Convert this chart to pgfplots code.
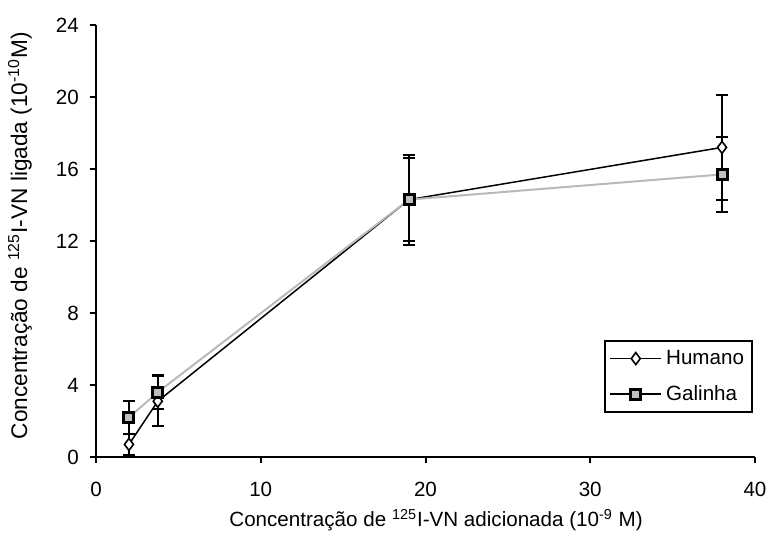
\documentclass[border=0pt]{standalone}
\usepackage{pgfplots}
\pgfplotsset{compat=1.18}
\usepackage{fontspec}
\setmainfont{Liberation Sans}
\begin{document}
\fontsize{10.3}{12}\selectfont
\begin{tikzpicture}
\begin{axis}[
  at={(0,0)}, anchor=south west,
  scale only axis, width=329.5pt, height=216pt,
  xmin=0, xmax=40, ymin=0, ymax=24,
  axis lines=left, axis line style={-, line width=1pt},
  xtick={0,10,20,30,40}, ytick={0,4,8,12,16,20,24},
  tick align=outside, major tick length=3pt,
  tick style={line width=1pt, black},
  /pgf/number format/assume math mode=true,
  tick label style={font=\fontsize{10.3}{12}\selectfont},
  xticklabel style={yshift=-6pt},
  yticklabel style={xshift=-2pt},
  xlabel={Concentração de \textsuperscript{125}I-VN adicionada (10\textsuperscript{-9} M)},
  ylabel={Concentração de \textsuperscript{125}I-VN ligada (10\textsuperscript{-10}M)},
  xlabel style={font=\fontsize{10.3}{12}\selectfont, at={(axis description cs:0.516,0)}, anchor=center, yshift=-31.5pt},
  ylabel style={font=\fontsize{11.3}{13}\selectfont, at={(axis description cs:-0.1153,0.512)}, anchor=center},
  legend style={at={(axis description cs:0.997,0.271)}, anchor=north east,
    draw=black, line width=1pt, font=\fontsize{10.3}{12}\selectfont,
    inner xsep=2pt, inner ysep=2.5pt, row sep=5pt, cells={anchor=west}},
  legend image code/.code={\draw[mark repeat=2,mark phase=2] plot coordinates {(0cm,0cm)(0.45cm,0cm)(0.9cm,0cm)};},
  clip=false,
]
\addplot[black, line width=0.75pt, mark=diamond*, mark size=3pt,
  mark options={fill=white, draw=black, line width=0.8pt},
  error bars/.cd, y dir=both, y explicit,
  error bar style={black, line width=1pt},
  error mark options={rotate=90, mark size=3pt, line width=1pt, black}]
coordinates {
  (2,0.7) +- (0,0.6)
  (3.75,3.1) +- (0,1.4)
  (19,14.3) +- (0,2.5)
  (38,17.2) +- (0,2.9)
};
\addlegendentry{Humano}
\addplot[gray!55, line width=1pt, mark=square*, mark size=2.5pt,
  mark options={fill=gray!50, draw=black, line width=1.5pt},
  legend image post style={draw=black, line width=0.75pt},
  error bars/.cd, y dir=both, y explicit,
  error bar style={black, line width=1pt},
  error mark options={rotate=90, mark size=3pt, line width=1pt, black}]
coordinates {
  (2,2.2) +- (0,0.9)
  (3.75,3.6) +- (0,0.95)
  (19,14.3) +- (0,2.3)
  (38,15.7) +- (0,2.1)
};
\addlegendentry{Galinha}
\end{axis}
\pgfresetboundingbox
\path (-48pt,-37.5pt) rectangle (335pt,228.5pt);
\end{tikzpicture}
\end{document}
